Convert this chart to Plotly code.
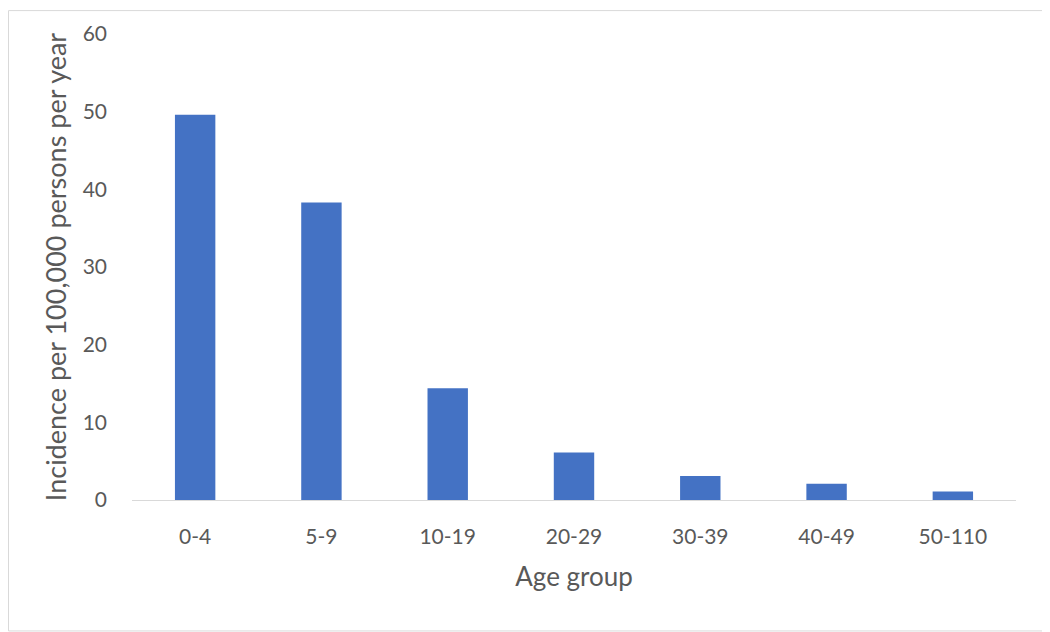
import plotly.graph_objects as go

categories = ["0-4", "5-9", "10-19", "20-29", "30-39", "40-49", "50-110"]
incidence = [49.6, 38.3, 14.4, 6.1, 3.1, 2.1, 1.1]
y_ticks = [0, 10, 20, 30, 40, 50, 60]

fig = go.Figure(go.Bar(x=categories, y=incidence, marker_color="#4472C4",
                       marker_line_width=0, width=0.32))

W, H = 1042, 624
L, R, T, B = 124, 34, 24, 132
pw, ph = W - L - R, H - T - B

font_family = "Lato, 'Open Sans', sans-serif"
fig.update_layout(
    width=W, height=H,
    margin=dict(l=L, r=R, t=T, b=B),
    paper_bgcolor="white", plot_bgcolor="white",
    font=dict(family=font_family, color="#595959", size=21),
    showlegend=False,
    xaxis=dict(title=dict(text="Age group", font=dict(size=26), standoff=20),
               showline=True, linecolor="#D9D9D9", linewidth=1,
               ticks="", tickfont=dict(size=21), ticklabelstandoff=18),
    yaxis=dict(title=dict(text="Incidence per 100,000 persons per year", font=dict(size=27), standoff=8),
               range=[0, 60], tickvals=y_ticks, showgrid=False, zeroline=False,
               ticks="", tickfont=dict(size=21), ticklabelstandoff=24),
    shapes=[dict(type="rect", xref="paper", yref="paper",
                 x0=-(L - 0.5) / pw, x1=1 + (R - 0.5) / pw,
                 y0=-(B - 0.5) / ph, y1=1 + (T - 0.5) / ph,
                 line=dict(color="#D9D9D9", width=1))],
)
fig.write_html("out.html")
